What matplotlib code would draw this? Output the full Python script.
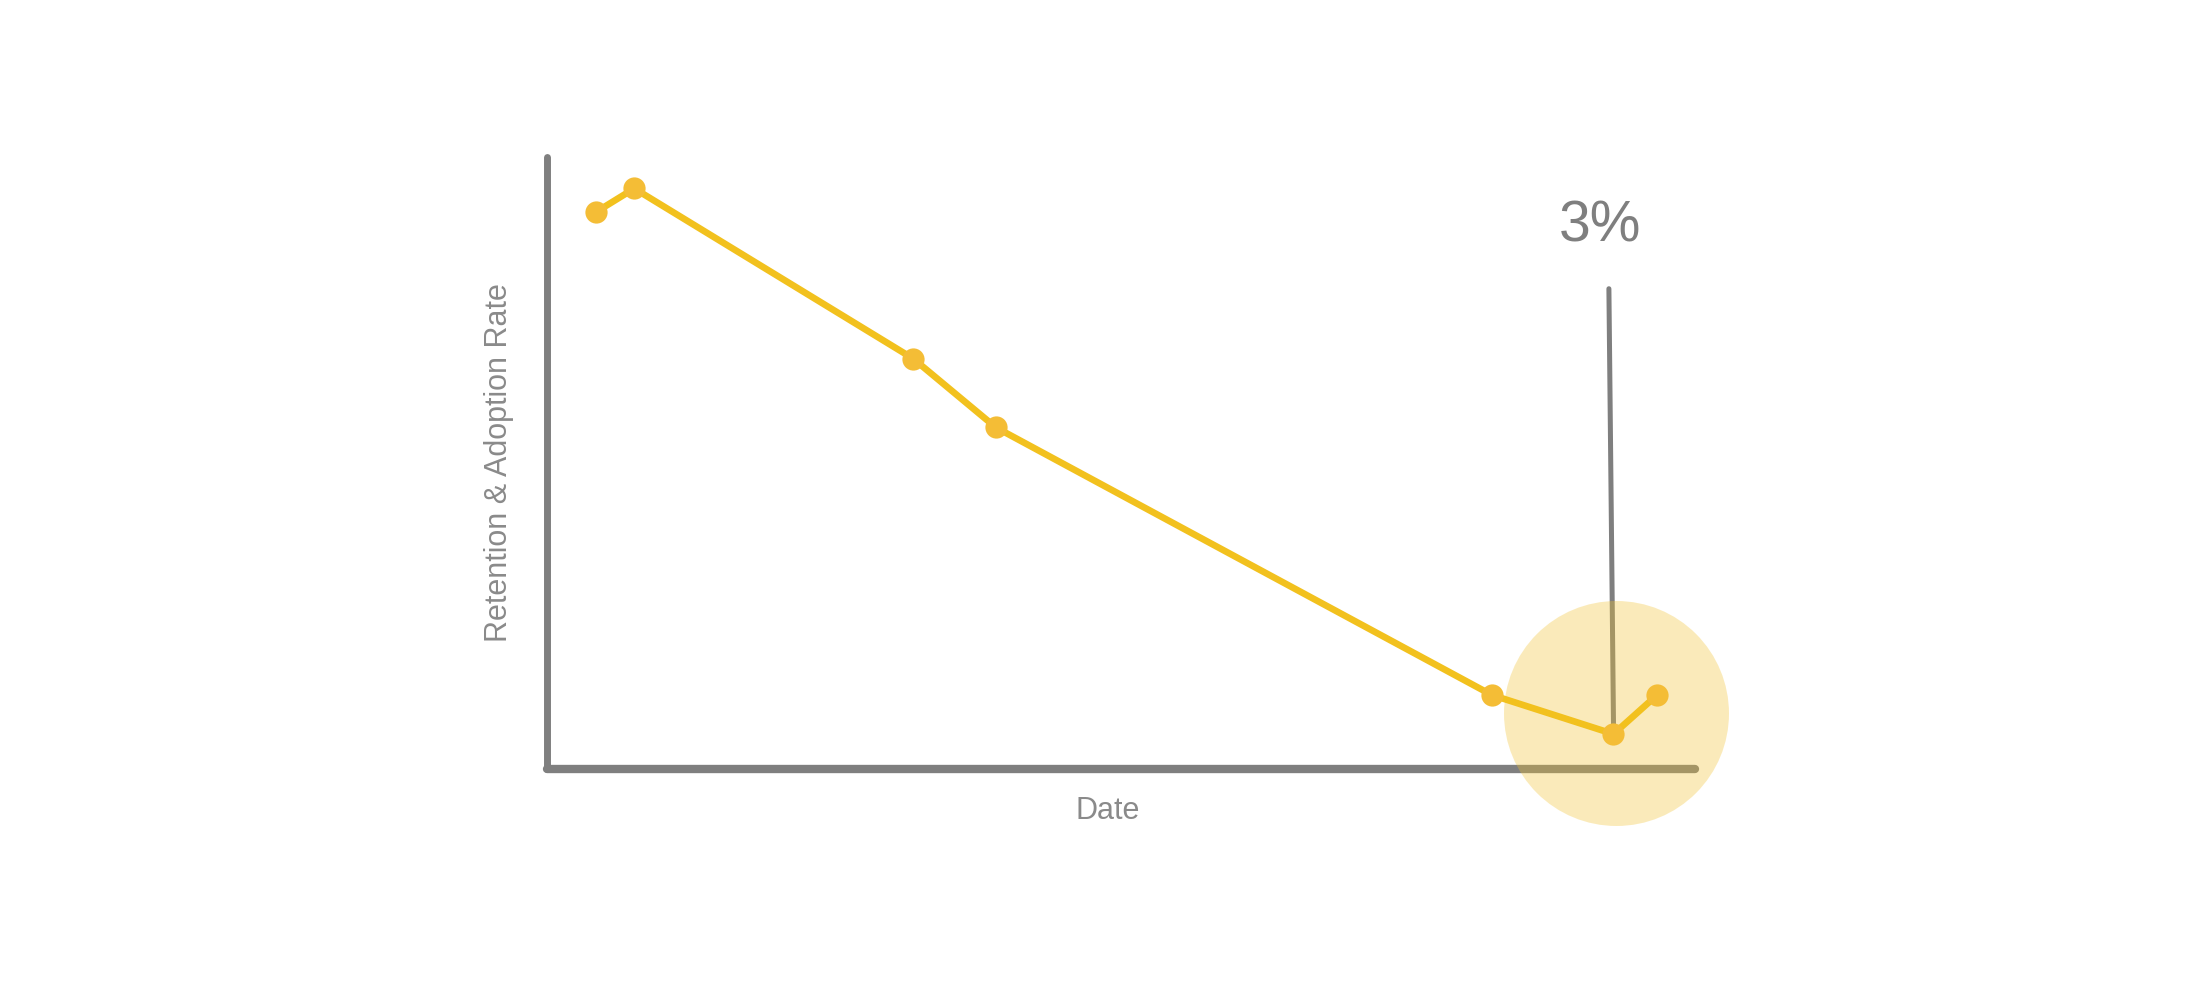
import matplotlib.pyplot as plt

# data (x = position along date axis, y = rate in %)
dates = [4.3, 7.6, 31.9, 39.1, 82.3, 92.9, 96.7]
rates = [47.8, 49.8, 35.2, 29.3, 6.35, 3.0, 6.35]
callout_label = "3%"
x_label = "Date"
y_label = "Retention & Adoption Rate"

line_color = "#F2C11E"
marker_color = "#F4BD36"
axis_color = "#7F7F7F"
text_color = "#8A8A8A"

plt.rcParams['font.family'] = ['Liberation Sans', 'DejaVu Sans']

fig = plt.figure(figsize=(22, 9.99), dpi=100)
ax = fig.add_axes([547 / 2200, (999 - 769) / 999, (1695 - 547) / 2200, (769 - 157) / 999])
ax.set_xlim(0, 100)
ax.set_ylim(0, 52.5)

for side in ["top", "right"]:
	ax.spines[side].set_visible(False)
for side in ["left", "bottom"]:
	ax.spines[side].set_color(axis_color)
	ax.spines[side].set_capstyle("round")
ax.spines["left"].set_linewidth(5)
ax.spines["bottom"].set_linewidth(6)
ax.set_xticks([])
ax.set_yticks([])

# callout line from the lowest point up toward the label
low = rates.index(min(rates))
ax.plot([dates[low] - 0.4, dates[low]], [41.2, rates[low] + 0.9], color=axis_color,
		lw=3.6, solid_capstyle="round", zorder=2, clip_on=False)

# highlight circle around the low point
ax.plot([dates[low] + 0.2], [rates[low] + 1.8], marker="o", ms=162, color="#F2C230",
		alpha=0.33, mec="none", zorder=3, clip_on=False)

ax.plot(dates, rates, color=line_color, lw=4.8, zorder=4, clip_on=False)
ax.plot(dates, rates, "o", color=marker_color, ms=16, mec="none", zorder=5, clip_on=False)

ax.text(dates[low] - 1.2, 46.5, callout_label, color=axis_color, fontsize=41,
		ha="center", va="center")
ax.text(0.488, -0.069, x_label, transform=ax.transAxes, color=text_color, fontsize=22,
		ha="center", va="center")
ax.text(-0.042, 0.5, y_label, transform=ax.transAxes, color=text_color, fontsize=22,
		rotation=90, ha="center", va="center")

fig.savefig("out.png", dpi=100)
